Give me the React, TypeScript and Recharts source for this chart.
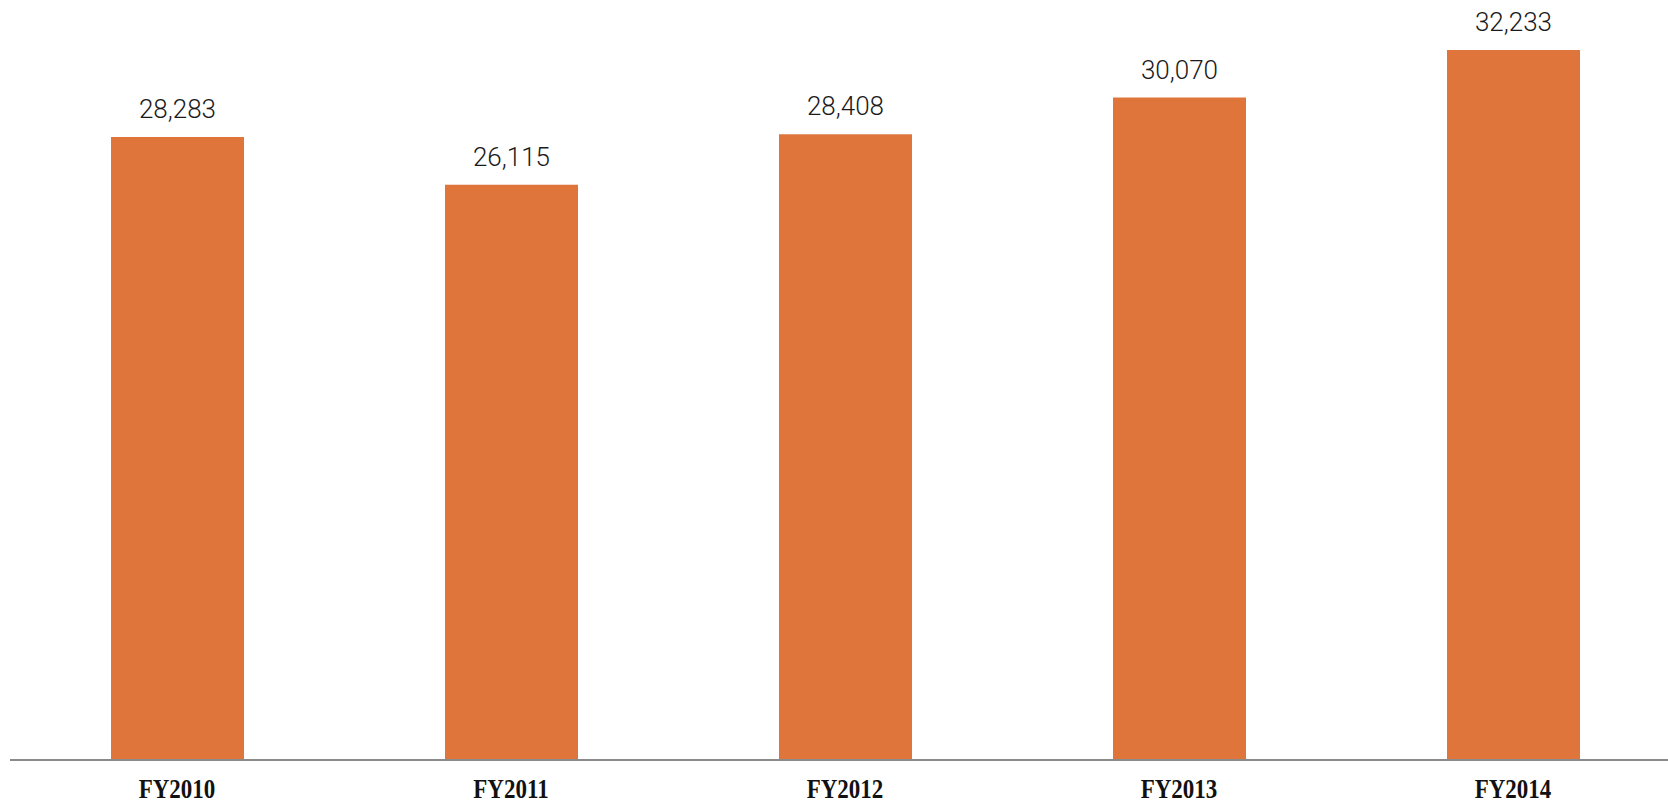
import React from "react";
import { BarChart, Bar, XAxis, YAxis, LabelList } from "recharts";

const categories = ["FY2010", "FY2011", "FY2012", "FY2013", "FY2014"];
const values = [28283, 26115, 28408, 30070, 32233];

const data = categories.map((c, i) => ({ name: c, value: values[i] }));

const fmt = (v: any) => Number(v).toLocaleString("en-US");

const Tick = (props: any) => {
  const { x, y, payload } = props;
  return (
    <text
      x={0}
      y={0}
      textAnchor="middle"
      transform={`translate(${x},${y + 38}) scale(1,1.18)`}
      fill="#111"
      fontFamily="'Liberation Serif', serif"
      fontWeight={700}
      fontSize={23}
    >
      {payload.value}
    </text>
  );
};

export default function App() {
  return (
    <div
      style={{
        position: "absolute",
        left: 0,
        top: 0,
        width: 1668,
        height: 802,
        overflow: "hidden",
        background: "#fff",
      }}
    >
      <BarChart
        width={1680}
        height={802}
        data={data}
        margin={{ top: 11, right: 0, bottom: 0, left: 10 }}
      >
        <XAxis
          dataKey="name"
          height={42}
          tickLine={false}
          tickSize={0}
          tickMargin={0}
          axisLine={{ stroke: "#8a8a8a", strokeWidth: 2 }}
          tick={<Tick />}
        />
        <YAxis hide domain={[0, 34000]} />
        <Bar dataKey="value" fill="#DF753B" barSize={133} isAnimationActive={false}>
          <LabelList
            dataKey="value"
            position="top"
            offset={19}
            formatter={fmt}
            style={{
              fill: "#1a1a1a",
              fontFamily: "Roboto, sans-serif",
              fontWeight: 300,
              fontSize: 26,
            }}
          />
        </Bar>
      </BarChart>
    </div>
  );
}
